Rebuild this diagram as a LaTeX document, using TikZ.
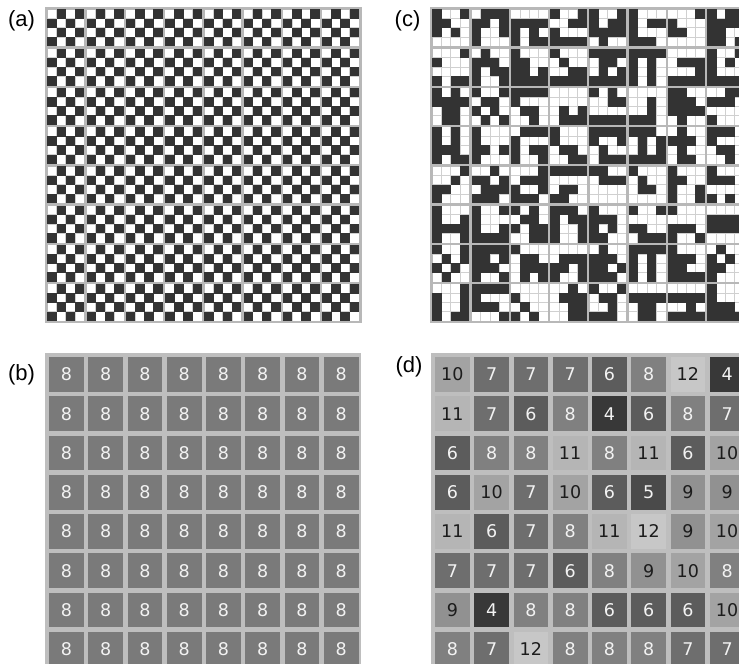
\documentclass[tikz,border=0pt]{standalone}
\usepackage{fontspec}
\setmainfont{Liberation Sans}
\newfontfamily\numfont{DejaVu Sans}

\definecolor{framec}{HTML}{B8B8B8}
\definecolor{gridc}{HTML}{D0D0D0}
\definecolor{darkc}{HTML}{333333}
\definecolor{bframe}{HTML}{BEBEBE}
\definecolor{bcell}{HTML}{7A7A7A}
\definecolor{lighttxt}{HTML}{F2F2F2}
\definecolor{darktxt}{HTML}{1C1C1C}

\tikzset{
  panelframe/.style={fill=framec},
  numframe/.style={fill=bframe},
  gridline/.style={draw=gridc, line width=1.1pt},
  darkcell/.style={fill=darkc},
  numtxt/.style={font=\numfont\fontsize{17.5}{20}\selectfont, inner sep=0pt},
  plabel/.style={font=\fontsize{22}{26}\selectfont, inner sep=0pt}
}

\def\Pch{39.25}
\def\Bwd{36.75}
\def\Cwd{9.1875}

\newcommand\cellblock{%
  \fill[white] (\bx,\by) rectangle ++(\Bwd,\Bwd);
  \foreach \kk in {1,2,3}{
    \draw[gridline] (\bx+\kk*\Cwd,\by) -- ++(0,\Bwd);
    \draw[gridline] (\bx,\by+\kk*\Cwd) -- ++(\Bwd,0);
  }%
}
\newcommand\dkcell[2]{\fill[darkcell] (\bx+#1*\Cwd-0.15,\by+#2*\Cwd-0.15) rectangle ++(\Cwd+0.3,\Cwd+0.3);}
\newcommand\patrow[4]{\if X#1\dkcell{0}{\ri}\fi\if X#2\dkcell{1}{\ri}\fi\if X#3\dkcell{2}{\ri}\fi\if X#4\dkcell{3}{\ri}\fi}

\begin{document}
\begin{tikzpicture}[x=1pt,y=-1pt]
\useasboundingbox (0,0) rectangle (739,664);
\clip (0,0) rectangle (739,664);

% ---------- (a) checkerboard ----------
\fill[panelframe] (45,7) rectangle ++(317,316);
\foreach \i in {0,...,7}{\foreach \j in {0,...,7}{
  \pgfmathsetmacro\bx{47.5+\j*\Pch}
  \pgfmathsetmacro\by{9.5+\i*\Pch}
  \cellblock
  \foreach \r in {0,...,3}{\foreach \c in {0,...,3}{
    \pgfmathtruncatemacro\pty{mod(\r+\c,2)}
    \ifnum\pty=1 \dkcell{\c}{\r}\fi
  }}
}}
\node[plabel] (lab-a) at (21.5,21) {(a)};

% ---------- (c) random pattern ----------
\fill[panelframe] (430,7) rectangle ++(317,316);
\foreach \blk [count=\bi from 0] in {
 {XooX,XXoo,XoXo,oooo},{oXXX,XXoX,XooX,Xooo},{oooo,XXXX,XoXo,XoXX},{XooX,ooXX,Xooo,XXXX},
 {XooX,XoXX,XXXX,oXoo},{Xooo,XoXX,Xooo,XXXo},{oooX,Xooo,XXoo,oooo},{XoXX,XXXX,XXoo,XXoX},
 {oooX,Xooo,oooo,XoXX},{oXoo,XXXo,XoXX,XooX},{Xooo,XXoo,XXoX,XXXX},{Xooo,oXoo,ooXX,XXXX},
 {XXXX,oXXo,oXoX,XXXX},{XXXX,XoXo,XoXo,XoXo},{oooo,oXXX,oooX,XXXX},{XooX,XoXo,Xooo,XXXX},
 {XoXo,XXXX,oXXo,oXXo},{XooX,oXXo,XoXo,oXoX},{XXXX,Xooo,oXXo,ooXo},{oooo,oooo,oXoX,oXXX},
 {XoXo,ooXX,oooo,XXXX},{oooo,ooXo,ooXo,XXXo},{XXoo,XXXo,XXXX,oXoo},{ooXX,XXXo,oooo,Xooo},
 {XoXo,XoXo,XXXo,XoXX},{Xooo,Xooo,XXoX,Xooo},{oXXX,Xooo,XoXX,XooX},{Xooo,Xooo,oXXo,ooXX},
 {XXXX,XooX,oXoo,oXXX},{XXXo,oXoX,oXoX,XXXX},{oXoo,XXXo,oXoo,oXXo},{XXXo,Xooo,oXXo,ooXo},
 {oooX,ooXo,XXoo,Xooo},{ooXo,XXoX,oXXX,XXXo},{oooX,oXXX,XooX,XXXo},{XXXX,oooo,oXXo,XXoo},
 {XXoo,oXXX,oooo,oooo},{Xooo,oXoo,oXXo,oooo},{Xooo,XXoo,XooX,XooX},{Xooo,XXXo,oooo,XoXo},
 {Xooo,XooX,XXXX,XooX},{XooX,Xooo,XooX,XXXX},{XoXo,oXXo,XoXX,ooXX},{XXXo,XoXX,XooX,XooX},
 {Xooo,XXXo,XoXo,XXoo},{XooX,oooo,XXoo,oXXX},{Xooo,oooo,XXXo,XooX},{oooo,XXXX,XXXX,oooo},
 {XooX,oXoX,XoXo,oXoo},{XXXX,XXoX,XXXo,XooX},{Xooo,oXXo,oXXX,oXoX},{oooo,oXXX,XXoX,XooX},
 {oXoo,XXXo,XXoX,XXXo},{XXXX,XoXo,XoXo,XoXo},{Xooo,XXXo,XXoo,XXXX},{oXoo,XoXo,XXoo,Xooo},
 {oooX,XooX,XooX,XoXX},{XXXX,Xooo,XXXo,oooX},{oooo,Xooo,oXoo,XoXo},{ooXo,oXXX,ooXX,ooXX},
 {XooX,oXXo,ooXo,XXXo},{oooo,XXXX,oXXo,oXXo},{oooo,XXXX,ooXo,XXXX},{Xooo,Xooo,XXXo,XXXX}}{
  \pgfmathtruncatemacro\brow{floor(\bi/8)}
  \pgfmathtruncatemacro\bcol{mod(\bi,8)}
  \pgfmathsetmacro\bx{432.5+\bcol*\Pch}
  \pgfmathsetmacro\by{9.5+\brow*\Pch}
  \cellblock
  \foreach \rw [count=\ri from 0] in \blk {\expandafter\patrow\rw}
}
\node[plabel] (lab-c) at (407.5,21) {(c)};

% ---------- (b) counts, uniform ----------
\fill[numframe] (45,353) rectangle ++(316,317);
\foreach \i in {0,...,7}{\foreach \j in {0,...,7}{
  \fill[fill=bcell] (49+\j*\Pch,357+\i*\Pch) rectangle ++(34.75,34.75);
  \node[numtxt, text=lighttxt] (b-\i-\j) at (49+\j*\Pch+17.375,357+\i*\Pch+17.375) {8};
}}
\node[plabel] (lab-b) at (21.5,375) {(b)};

% ---------- (d) counts, random ----------
\fill[numframe] (431,353) rectangle ++(317,317);
\foreach \n [count=\k from 0] in {
 10,7,7,7,6,8,12,4,
 11,7,6,8,4,6,8,7,
 6,8,8,11,8,11,6,10,
 6,10,7,10,6,5,9,9,
 11,6,7,8,11,12,9,10,
 7,7,7,6,8,9,10,8,
 9,4,8,8,6,6,6,10,
 8,7,12,8,8,8,7,7}{
  \pgfmathtruncatemacro\drow{floor(\k/8)}
  \pgfmathtruncatemacro\dcol{mod(\k,8)}
  \pgfmathtruncatemacro\blk{106-7*\n}
  \pgfmathsetmacro\dx{435+\dcol*\Pch}
  \pgfmathsetmacro\dy{357+\drow*\Pch}
  \fill[fill=black!\blk] (\dx,\dy) rectangle ++(34.75,34.75);
  \ifnum\n>8
    \node[numtxt, text=darktxt] (d-\k) at (\dx+17.375,\dy+17.375) {\n};
  \else
    \node[numtxt, text=lighttxt] (d-\k) at (\dx+17.375,\dy+17.375) {\n};
  \fi
}
\node[plabel] (lab-d) at (409,367) {(d)};
\end{tikzpicture}
\end{document}
